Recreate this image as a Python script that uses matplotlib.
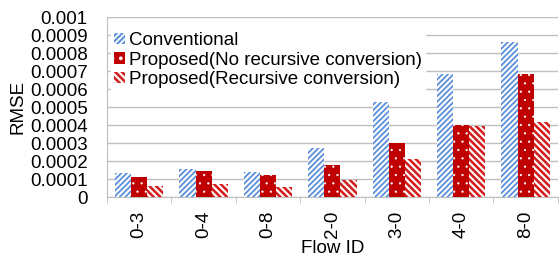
import numpy as np
import matplotlib.pyplot as plt

plt.rcParams['font.family'] = ['Liberation Sans', 'DejaVu Sans']

flows = ['0-3', '0-4', '0-8', '2-0', '3-0', '4-0', '8-0']
conventional = [0.000133, 0.000155, 0.000139, 0.000270, 0.000530, 0.000683, 0.000859]
no_recursive = [0.000111, 0.000146, 0.000124, 0.000178, 0.000298, 0.000400, 0.000683]
recursive = [0.000061, 0.000070, 0.000054, 0.000093, 0.000210, 0.000394, 0.000415]
yticks = [0, 0.0001, 0.0002, 0.0003, 0.0004, 0.0005, 0.0006, 0.0007, 0.0008, 0.0009, 0.001]

fs = 13.5
fig = plt.figure(figsize=(5.6, 2.59), dpi=100)
ax = fig.add_axes([0.191, 0.239, 0.805, 0.695])

x = np.arange(len(flows))
w = 0.25
plt.rcParams['hatch.linewidth'] = 1.3
ax.bar(x - w, conventional, w, color='white', edgecolor='#5b8fd9', hatch='//////',
       linewidth=0, label='Conventional', zorder=3)
plt.rcParams['hatch.linewidth'] = 0.4
ax.bar(x, no_recursive, w, color='#c00000', edgecolor='white', hatch='..',
       linewidth=0, label='Proposed(No recursive conversion)', zorder=3)
plt.rcParams['hatch.linewidth'] = 1.5
ax.bar(x + w, recursive, w, color='#d42020', edgecolor='white', hatch='\\\\\\\\\\',
       linewidth=0, label='Proposed(Recursive conversion)', zorder=3)

ax.set_xlim(-0.5, len(flows) - 0.5)
ax.set_ylim(0, 0.001)
ax.set_yticks(yticks)
ax.set_yticklabels(['%g' % v for v in yticks])
ax.set_xticks(x)
ax.set_xticklabels(flows, rotation=90)
ax.set_xticks(np.arange(len(flows) + 1) - 0.5, minor=True)
ax.tick_params(axis='x', which='major', length=0, pad=10, labelsize=fs)
ax.tick_params(axis='x', which='minor', length=4, color='#bfbfbf')
ax.tick_params(axis='y', length=0, pad=14, labelsize=fs)
ax.grid(axis='y', color='#bfbfbf', linewidth=1, zorder=0)
for s in ['top', 'right']:
    ax.spines[s].set_visible(False)
for s in ['left', 'bottom']:
    ax.spines[s].set_color('#bfbfbf')

ax.set_ylabel('RMSE', fontsize=fs, labelpad=2)
ax.set_xlabel('Flow ID', fontsize=fs, labelpad=1)

leg = ax.legend(loc='upper left', bbox_to_anchor=(0.0, 0.96), fontsize=fs, frameon=True,
                framealpha=1, edgecolor='white', fancybox=False, borderpad=0.2,
                labelspacing=0.15, handlelength=0.55, handleheight=0.55, handletextpad=0.2,
                borderaxespad=0.2)
leg.set_zorder(5)

fig.savefig('out.png', dpi=100)
